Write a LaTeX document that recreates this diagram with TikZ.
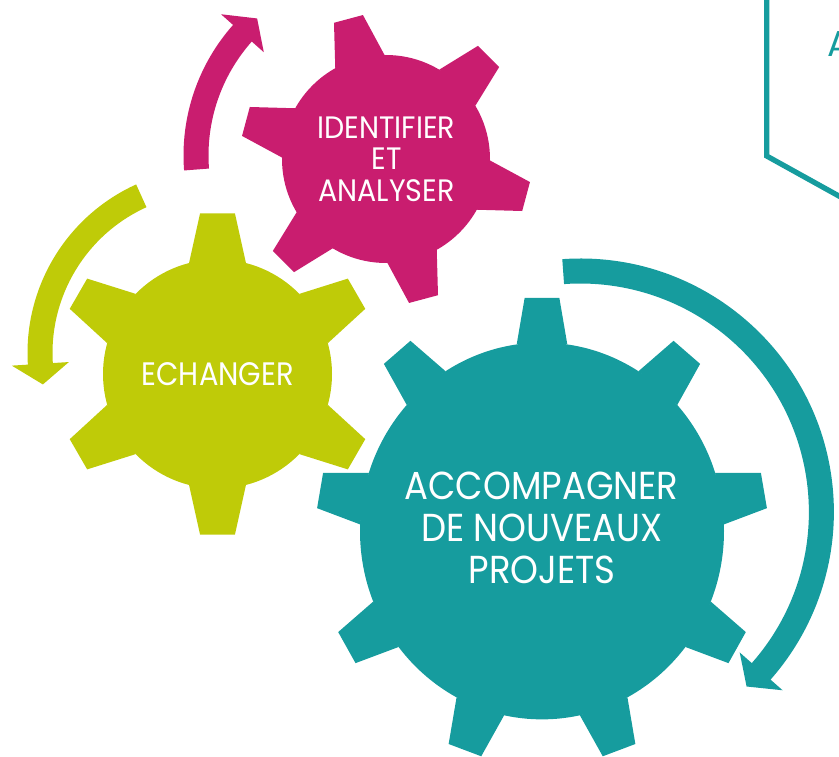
\documentclass[tikz,border=0pt]{standalone}
\usepackage{fontspec}
\newfontfamily\magfont[FakeStretch=0.92]{Poppins}
\newfontfamily\limefont[FakeStretch=0.89]{Poppins}
\newfontfamily\tealfont[FakeStretch=0.91]{Poppins}
\newfontfamily\gearfont{Poppins}
\definecolor{gmag}{HTML}{C91D6F}
\definecolor{glime}{HTML}{BFCB08}
\definecolor{gteal}{HTML}{169C9E}
\tikzset{
  gtext/.style={text=white, inner sep=0pt, anchor=base},
  magtext/.style={gtext, font=\magfont\fontsize{31}{32}\selectfont},
  limetext/.style={gtext, font=\limefont\fontsize{32.5}{33}\selectfont},
  tealtext/.style={gtext, font=\tealfont\fontsize{39}{41}\selectfont},
  hexline/.style={draw=gteal, line width=5.3pt, line join=miter},
}
% #1 tooth angles, #2 body radius, #3 outer radius, #4 base half-angle, #5 tip half-angle
\newcommand\gearbody[5]{%
  \fill (0,0) circle[radius=#2];
  \foreach \t in {#1} {\fill (\t-#4:#2) -- (\t-#5:#3) -- (\t+#5:#3) -- (\t+#4:#2) -- cycle;}
}
% #1 radius, #2 start angle, #3 head base angle, #4 tip angle
\newcommand\curvarrow[4]{%
  \fill (#2:#1+12.5) arc[start angle=#2, end angle=#3, radius=#1+12.5]
    -- (#3:#1+28.6) -- (#4:#1) -- (#3:#1-28.6) -- (#3:#1-12.5)
    arc[start angle=#3, end angle=#2, radius=#1-12.5] -- cycle;
}
\begin{document}
\begin{tikzpicture}[x=1pt,y=1pt]
\useasboundingbox (0,0) rectangle (839,756);
\clip (0,0) rectangle (839,756);
% gears
\begin{scope}[shift={(217.5,382)}, fill=glime]
  \coordinate (limec) at (0,0);
  \gearbody{90,150,210,270,330,390}{114.5}{161.5}{14.4}{6.2}
\end{scope}
\begin{scope}[shift={(386,597)}, fill=gmag]
  \coordinate (magc) at (0,0);
  \gearbody{105,165,225,285,345,405}{104}{145.8}{14.2}{5.9}
\end{scope}
\begin{scope}[shift={(542,225)}, yscale=1.035, fill=gteal]
  \coordinate (tealc) at (0,0);
  \gearbody{90,130,170,210,250,290,330,370,410}{182}{226}{8.0}{4.4}
\end{scope}
% curved arrows
\begin{scope}[shift={(380,600.6)}, fill=gmag]
  \curvarrow{184}{184.4}{138.4}{131.9}
\end{scope}
\begin{scope}[shift={(212.6,403)}, fill=glime]
  \curvarrow{172.6}{114.4}{183.6}{190.5}
\end{scope}
\begin{scope}[shift={(580.4,244)}, fill=gteal]
  \curvarrow{241}{94.1}{-41.4}{-46.4}
\end{scope}
% texts
\node[magtext] (id1) at (386.5,617.5) {IDENTIFIER};
\node[magtext] (id2) at (386.5,586) {ET};
\node[magtext] (id3) at (386.5,554.5) {ANALYSER};
\node[limetext] (ech) at (217.8,370) {ECHANGER};
\node[tealtext] (ac1) at (541.5,256) {ACCOMPAGNER};
\node[tealtext] (ac2) at (542,214.3) {DE NOUVEAUX};
\node[tealtext] (ac3) at (542,172.7) {PROJETS};
% partial hexagon at top right
\coordinate (hextop) at (766.7,770);
\coordinate (hexcorner) at (766.7,600);
\draw[hexline] (hextop) -- (hexcorner) -- ++(-29:150);
\node[text=gteal, inner sep=0pt, anchor=base west, font=\gearfont\fontsize{36}{36}\selectfont] (atext) at (827.5,699.3) {A};
\end{tikzpicture}
\end{document}
